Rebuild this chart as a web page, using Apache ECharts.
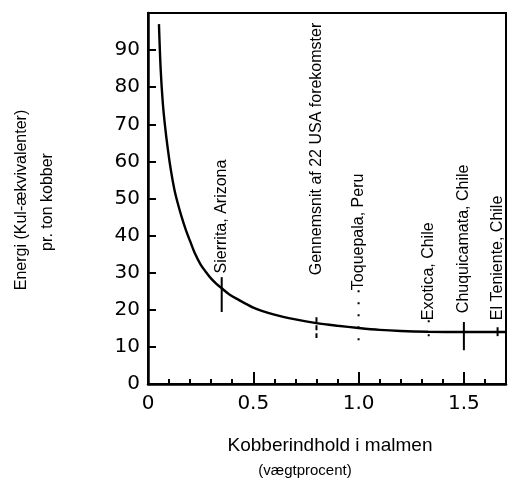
<!DOCTYPE html>
<html>
<head>
<meta charset="utf-8">
<script src="https://cdn.jsdelivr.net/npm/echarts@6/dist/echarts.min.js"></script>
<style>
  html, body { margin: 0; padding: 0; background: #fff; }
  #chart { width: 509px; height: 479px; }
</style>
</head>
<body>
<div id="chart"></div>
<script>
// energy curve (grade in %, energy)
const grades = [0.052, 0.06, 0.07, 0.08, 0.094, 0.109, 0.125, 0.14, 0.16, 0.18, 0.2, 0.222, 0.25, 0.275, 0.3, 0.325, 0.35, 0.385, 0.42, 0.5, 0.6, 0.7, 0.8, 0.9, 1.0, 1.1, 1.2, 1.33, 1.5, 1.7]
const energy = [97, 85, 76, 70, 63.4, 57.5, 52.5, 49, 45, 41.5, 38.5, 35.3, 32.2, 30.2, 28.4, 27.0, 25.8, 24.2, 23.0, 20.6, 18.7, 17.4, 16.4, 15.7, 15.1, 14.6, 14.3, 14.1, 14.0, 14.0]

// deposits: name, grade, label foot, marker top / bottom
const mineNames = ['Sierrita, Arizona', 'Gennemsnit af 22 USA forekomster', 'Toquepala, Peru', 'Exotica, Chile', 'Chuquicamata, Chile', 'El Teniente, Chile']
const mineGrades = [0.35, 0.80, 1.0, 1.333, 1.50, 1.66]
const labelFoot = [29.8, 29.3, 25.3, 17.2, 19.1, 17.2]
const markTop = [28.8, 18.0, 25.3, 17.2, 16.7, 15.3]
const markBottom = [19.4, 12.4, 11.8, 9.7, 9.1, 12.9]
const markTypes = ['solid', [5, 3], [2, 10], [2, 12], 'solid', 'solid']

const yTicks = [0, 10, 20, 30, 40, 50, 60, 70, 80, 90]
const xTicks = [0, 0.5, 1.0, 1.5]

const chart = echarts.init(document.getElementById('chart'))

const markerSeries = mineGrades.map((g, i) => ({
  type: 'line',
  symbol: 'none',
  silent: true,
  lineStyle: { color: '#000', width: 2, type: markTypes[i] },
  data: [[g, markTop[i]], [g, markBottom[i]]]
}))

const onTick = (v, list) => list.some((t) => Math.abs(t - v) < 1e-6)

chart.setOption({
  animation: false,
  backgroundColor: '#fff',
  grid: {
    left: 148, right: 2, top: 13, bottom: 95,
    show: true, borderColor: '#000', borderWidth: 2
  },
  xAxis: [{
    type: 'value', min: 0, max: 1.7, interval: 0.5,
    axisLine: { lineStyle: { color: '#000', width: 2.5 } },
    axisTick: { inside: true, length: 12, lineStyle: { color: '#000', width: 2 } },
    splitLine: { show: false },
    axisLabel: {
      margin: 10, color: '#000', fontSize: 20, fontFamily: 'DejaVu Sans',
      formatter: (v) => onTick(v, xTicks) ? (v === 0 ? '0' : v.toFixed(1)) : ''
    }
  }, {
    type: 'value', min: 0, max: 1.7, interval: 0.1, position: 'bottom',
    axisLine: { show: false },
    axisTick: { inside: true, length: 5, lineStyle: { color: '#000', width: 2 } },
    axisLabel: { show: false },
    splitLine: { show: false }
  }],
  yAxis: {
    type: 'value', min: 0, max: 100, interval: 10,
    axisLine: { lineStyle: { color: '#000', width: 2.5 } },
    axisTick: { inside: true, length: 8, lineStyle: { color: '#000', width: 2 } },
    splitLine: { show: false },
    axisLabel: {
      margin: 8, color: '#000', fontSize: 20, fontFamily: 'DejaVu Sans',
      formatter: (v) => onTick(v, yTicks) ? String(v) : ''
    }
  },
  graphic: [
    { type: 'text', x: 22, y: 200, rotation: Math.PI / 2,
      style: { text: 'Energi (Kul-ækvivalenter)', textAlign: 'center', textVerticalAlign: 'middle', font: '16px "Liberation Sans"', fill: '#000' } },
    { type: 'text', x: 48, y: 202, rotation: Math.PI / 2,
      style: { text: 'pr. ton kobber', textAlign: 'center', textVerticalAlign: 'middle', font: '16px "Liberation Sans"', fill: '#000' } },
    { type: 'text', x: 330, y: 446,
      style: { text: 'Kobberindhold i malmen', textAlign: 'center', textVerticalAlign: 'middle', font: '19px "Liberation Sans"', fill: '#000' } },
    { type: 'text', x: 305, y: 471,
      style: { text: '(vægtprocent)', textAlign: 'center', textVerticalAlign: 'middle', font: '15px "Liberation Sans"', fill: '#000' } }
  ],
  series: [{
    type: 'line',
    smooth: 0.3,
    symbol: 'none',
    lineStyle: { color: '#000', width: 2.4 },
    data: grades.map((g, i) => [g, energy[i]])
  }, ...markerSeries, {
    type: 'custom',
    silent: true,
    renderItem: (params, api) => {
      const p = api.coord([api.value(0), api.value(1)])
      return {
        type: 'text', x: p[0], y: p[1], rotation: Math.PI / 2,
        style: {
          text: mineNames[params.dataIndex], textAlign: 'left', textVerticalAlign: 'middle',
          font: '16px "Liberation Sans"', fill: '#000'
        }
      }
    },
    data: mineGrades.map((g, i) => [g, labelFoot[i]])
  }]
})
</script>
</body>
</html>
